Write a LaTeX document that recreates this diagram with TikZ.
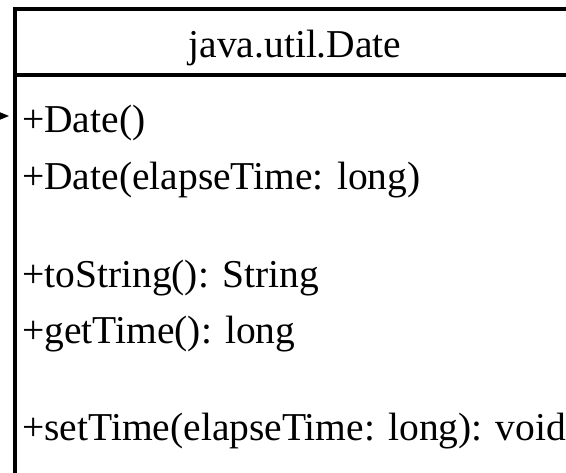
\documentclass[tikz,border=0pt]{standalone}
\usepackage{fontspec}
\setmainfont{Liberation Serif}
\usetikzlibrary{arrows.meta}
\begin{document}
\begin{tikzpicture}[x=1pt,y=-1pt,
  member/.style={anchor=base west,inner sep=0pt,font=\fontsize{39.5}{48}\selectfont},
  titletext/.style={anchor=base,inner sep=0pt,font=\fontsize{39.5}{48}\selectfont},
  boxline/.style={line width=3.6pt}]
\useasboundingbox (0,0) rectangle (566,473);
\node (cls) [draw,boxline,anchor=north west,minimum width=620pt,minimum height=520pt,inner sep=0pt] at (13,7) {};
\coordinate (hl) at (13,75);
\coordinate (hr) at (640,75);
\draw[boxline] (hl) -- (hr);
\node[titletext] (title) at (295,57.5) {java.util.Date};
\node[member] (m1) at (22,133) {+Date()};
\node[member] (m2) at (22,190) {+Date(elapseTime: long)};
\node[member] (m3) at (22,288) {+toString(): String};
\node[member] (m4) at (22,344) {+getTime(): long};
\node[member] (m5) at (22,441) {+setTime(elapseTime: long): void};
\coordinate (src) at (-20,116);
\coordinate (dst) at (9,116);
\draw[line width=1pt,-{Triangle[length=10pt,width=8pt]}] (src) -- (dst);
\end{tikzpicture}
\end{document}
